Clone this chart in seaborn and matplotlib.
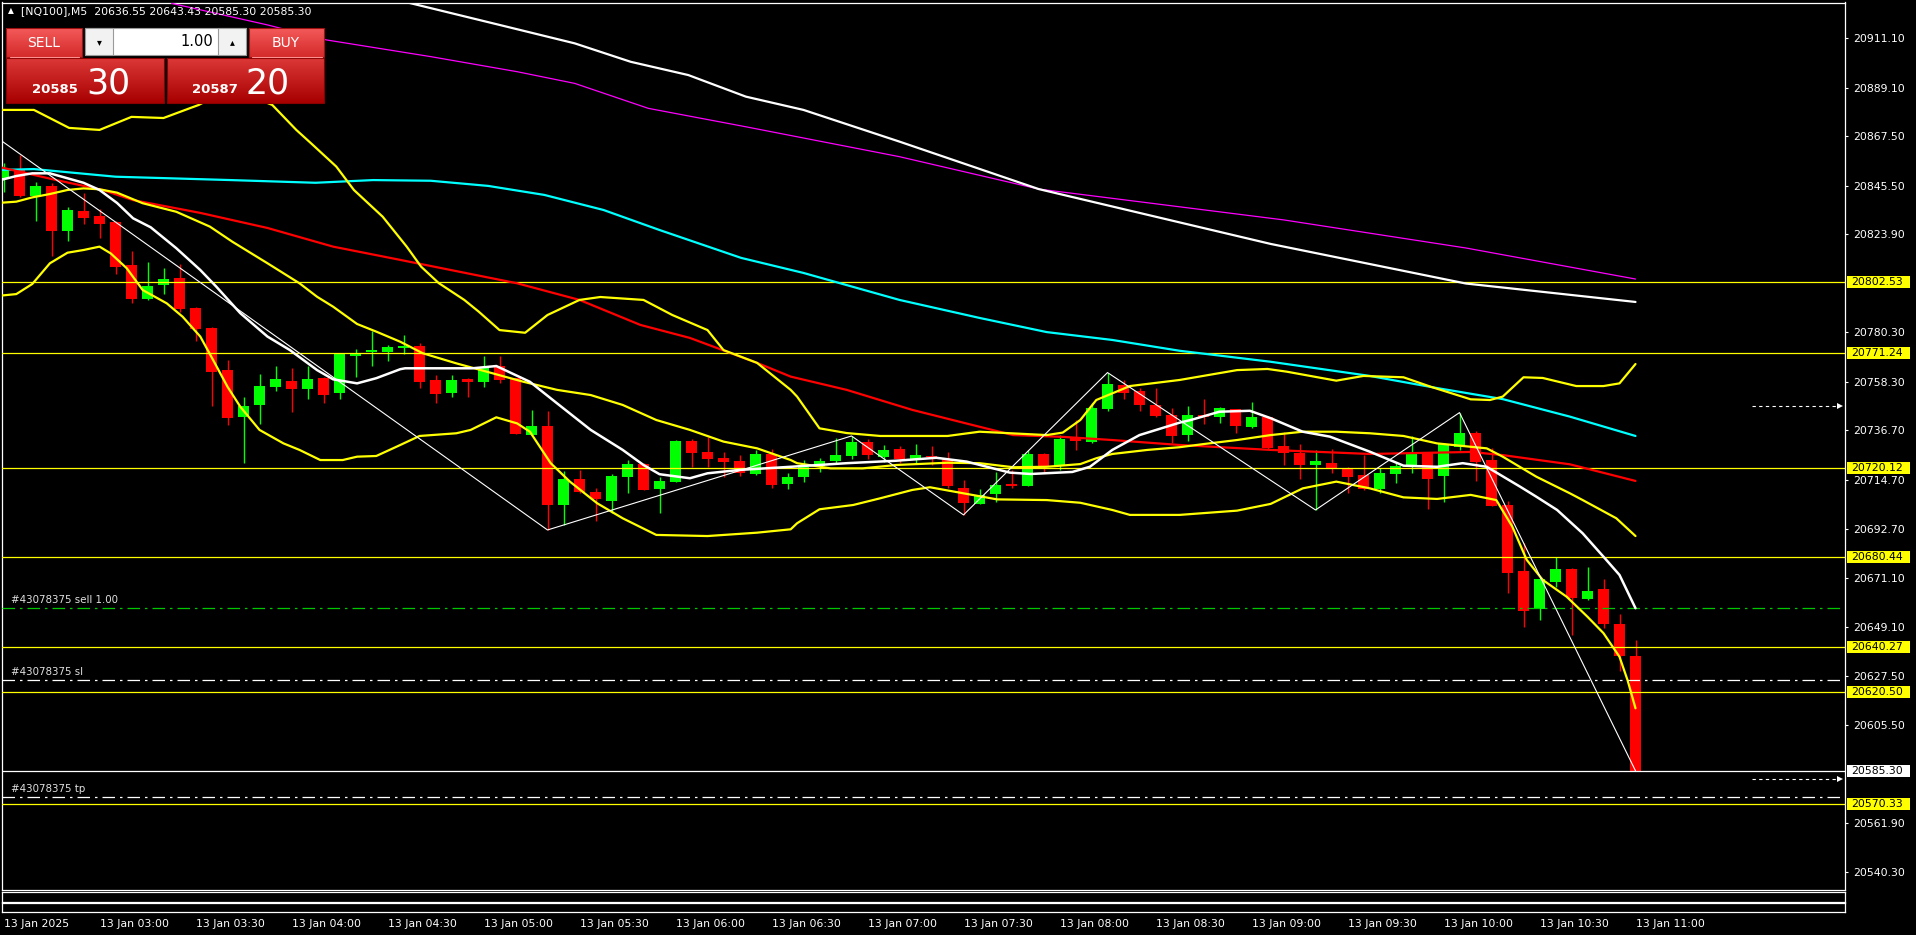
import matplotlib
matplotlib.use("Agg")
import matplotlib.pyplot as plt
import numpy as np
import pandas as pd
import seaborn as sns
from matplotlib.colors import LinearSegmentedColormap
from matplotlib.patches import Rectangle

# ---------------------------------------------------------------------------
# Data: [NQ100] M5, 13 Jan 2025 02:30 .. 11:00 (103 bars)
# ---------------------------------------------------------------------------
OPEN = [
    20849.1, 20852.5, 20840.9, 20845.4, 20825.5, 20834.3, 20832.0, 20829.4, 20810.3, 20795.1,
    20801.4, 20804.5, 20791.1, 20782.2, 20763.6, 20742.8, 20748.0, 20756.1, 20758.7, 20755.0,
    20760.1, 20753.2, 20769.9, 20771.4, 20771.7, 20773.2, 20774.2, 20759.1, 20753.3, 20759.6,
    20758.4, 20765.3, 20759.9, 20734.8, 20738.7, 20703.7, 20715.0, 20709.3, 20705.3, 20716.1,
    20721.8, 20710.8, 20713.9, 20732.0, 20727.1, 20724.4, 20722.9, 20717.4, 20726.2, 20713.0,
    20715.8, 20721.0, 20723.2, 20725.5, 20731.5, 20725.0, 20728.4, 20724.0, 20725.3, 20724.0,
    20711.0, 20704.1, 20708.5, 20712.7, 20712.1, 20726.2, 20720.9, 20733.2, 20731.7, 20746.3,
    20756.9, 20754.2, 20747.9, 20743.4, 20734.7, 20743.6, 20742.8, 20746.1, 20738.4, 20742.8,
    20729.8, 20726.5, 20721.3, 20722.2, 20720.1, 20716.9, 20710.5, 20717.4, 20721.3, 20726.8,
    20716.5, 20729.5, 20735.6, 20723.5, 20703.5, 20674.2, 20657.4, 20669.3, 20675.1, 20661.7,
    20666.2, 20650.6, 20636.55,
]
HIGH = [
    20855.7, 20859.2, 20847.0, 20846.9, 20835.9, 20842.4, 20835.0, 20829.8, 20816.5, 20811.4,
    20809.0, 20810.7, 20791.5, 20782.8, 20768.0, 20751.7, 20761.8, 20765.3, 20764.4, 20765.5,
    20760.4, 20771.0, 20772.8, 20781.0, 20774.7, 20779.1, 20775.7, 20761.3, 20761.3, 20760.0,
    20769.8, 20769.8, 20760.2, 20745.8, 20745.3, 20718.8, 20719.1, 20711.0, 20717.2, 20723.5,
    20722.3, 20716.1, 20732.3, 20732.7, 20733.6, 20726.9, 20725.8, 20728.0, 20728.4, 20717.9,
    20723.5, 20724.6, 20733.4, 20734.2, 20732.7, 20730.2, 20729.9, 20730.7, 20729.8, 20726.9,
    20714.7, 20710.5, 20718.2, 20719.1, 20728.0, 20726.5, 20734.7, 20741.3, 20748.7, 20762.4,
    20759.1, 20755.4, 20755.7, 20746.5, 20747.6, 20750.7, 20747.0, 20746.4, 20749.3, 20743.1,
    20736.1, 20730.7, 20727.9, 20728.4, 20720.6, 20725.8, 20720.1, 20722.1, 20734.2, 20727.2,
    20731.0, 20744.6, 20736.4, 20729.0, 20705.4, 20686.8, 20670.9, 20680.5, 20675.4, 20675.9,
    20670.6, 20655.1, 20643.43,
]
LOW = [
    20842.6, 20840.4, 20829.9, 20814.4, 20821.1, 20828.5, 20822.4, 20806.3, 20793.5, 20794.8,
    20797.4, 20789.5, 20776.6, 20747.7, 20739.1, 20722.1, 20739.5, 20754.4, 20745.0, 20750.5,
    20749.0, 20750.5, 20760.6, 20765.5, 20767.7, 20770.5, 20755.7, 20748.9, 20751.6, 20751.6,
    20756.1, 20757.9, 20735.0, 20734.5, 20692.4, 20694.5, 20708.7, 20696.5, 20699.8, 20709.0,
    20710.1, 20700.1, 20713.6, 20720.6, 20720.6, 20715.8, 20716.5, 20716.9, 20711.0, 20710.5,
    20713.9, 20718.3, 20722.3, 20724.1, 20723.8, 20722.6, 20722.1, 20722.1, 20721.3, 20711.2,
    20699.1, 20703.8, 20704.9, 20711.0, 20711.8, 20717.9, 20719.1, 20728.0, 20731.0, 20745.3,
    20750.5, 20745.3, 20742.8, 20731.0, 20732.0, 20739.5, 20740.1, 20735.4, 20737.9, 20728.3,
    20721.3, 20715.1, 20701.3, 20717.6, 20708.7, 20710.2, 20709.0, 20713.2, 20717.6, 20701.6,
    20705.0, 20728.1, 20714.2, 20703.0, 20664.5, 20649.4, 20652.4, 20667.2, 20645.7, 20661.3,
    20648.9, 20629.7, 20585.30,
]
CLOSE = [
    20852.8, 20840.9, 20845.4, 20825.5, 20834.7, 20831.3, 20828.6, 20809.5, 20795.1, 20800.9,
    20804.0, 20790.7, 20781.8, 20762.8, 20742.3, 20747.6, 20756.4, 20759.6, 20755.0, 20759.6,
    20752.6, 20770.7, 20771.1, 20772.5, 20773.8, 20774.4, 20758.4, 20753.0, 20759.1, 20758.4,
    20764.8, 20759.1, 20735.2, 20738.7, 20703.7, 20715.0, 20709.3, 20706.2, 20716.4, 20721.8,
    20710.3, 20714.2, 20732.0, 20726.8, 20724.0, 20722.8, 20717.9, 20726.2, 20712.6, 20716.0,
    20720.5, 20722.9, 20725.8, 20731.5, 20725.6, 20728.0, 20724.0, 20725.8, 20724.7, 20712.1,
    20704.5, 20708.0, 20712.3, 20712.1, 20726.2, 20720.4, 20732.7, 20732.1, 20746.8, 20757.3,
    20753.5, 20748.0, 20743.1, 20734.3, 20743.6, 20742.5, 20746.7, 20738.8, 20742.8, 20729.0,
    20726.5, 20721.3, 20722.9, 20719.7, 20716.1, 20710.5, 20717.6, 20720.9, 20726.2, 20715.0,
    20730.7, 20735.6, 20722.6, 20703.2, 20673.4, 20656.5, 20670.6, 20675.1, 20662.3, 20665.3,
    20650.7, 20636.5, 20585.30,
]

# indicator lines as (bar index, price)
MA_FAST = [
    (-0.2, 20848.0), (0.8, 20849.8), (1.8, 20851.0), (2.9, 20851.0), (4.0, 20848.8),
    (5.0, 20846.8), (6.0, 20843.6), (7.1, 20837.8), (8.1, 20831.0), (9.2, 20827.0),
    (10.8, 20817.7), (12.3, 20808.0), (13.3, 20800.6), (14.8, 20788.8), (16.5, 20778.4),
    (17.9, 20772.4), (19.6, 20763.5), (20.6, 20759.4), (22.1, 20757.6), (23.3, 20759.9),
    (24.8, 20763.9), (25.1, 20764.3), (29.3, 20764.3), (30.8, 20765.3), (32.9, 20758.3),
    (34.6, 20748.7), (36.7, 20736.9), (38.7, 20728.0), (40.0, 20721.3), (41.0, 20717.2),
    (42.9, 20715.4), (44.0, 20717.6), (46.0, 20719.1), (49.2, 20720.5), (52.7, 20722.1),
    (55.8, 20723.2), (58.3, 20724.5), (60.2, 20722.8), (62.9, 20717.9), (64.2, 20717.3),
    (66.8, 20718.2), (67.9, 20720.5), (69.3, 20728.0), (71.0, 20734.6), (73.5, 20740.1),
    (74.2, 20741.3), (76.0, 20745.0), (77.9, 20745.4), (79.2, 20742.1), (81.2, 20736.1),
    (82.9, 20733.9), (85.4, 20727.2), (87.5, 20721.0), (89.6, 20720.5), (91.2, 20722.1),
    (92.7, 20720.5), (94.8, 20711.6), (95.8, 20707.2), (97.1, 20701.3), (98.7, 20690.9),
    (100.0, 20680.5), (101.0, 20672.4), (102.0, 20657.6),
]
MA_RED = [
    (-0.2, 20853.7), (3.3, 20848.0), (6.2, 20843.6), (8.1, 20839.1), (12.3, 20833.4),
    (16.5, 20826.7), (20.6, 20818.4), (24.8, 20812.5), (32.1, 20802.1), (36.0, 20794.7),
    (39.8, 20783.6), (42.9, 20777.8), (47.1, 20766.7), (49.2, 20760.6), (52.7, 20754.7),
    (56.8, 20745.8), (61.0, 20738.3), (63.1, 20734.6), (66.2, 20733.8), (69.3, 20732.4),
    (73.5, 20730.2), (79.2, 20728.0), (85.4, 20726.2), (91.7, 20727.1), (93.7, 20725.7),
    (97.9, 20721.6), (102.0, 20714.2),
]
MA_CYAN = [
    (-0.2, 20852.5), (1.9, 20852.9), (7.0, 20849.5), (14.2, 20848.0), (19.5, 20846.8),
    (23.1, 20848.0), (26.7, 20847.7), (30.3, 20845.4), (33.8, 20841.4), (37.5, 20834.7),
    (41.0, 20825.8), (46.1, 20813.4), (50.0, 20806.7), (56.0, 20794.7), (61.0, 20786.7),
    (65.2, 20780.4), (69.3, 20776.9), (73.5, 20772.1), (79.2, 20767.2), (85.4, 20760.9),
    (89.6, 20755.5), (93.7, 20750.6), (97.9, 20742.8), (102.0, 20734.2),
]
MA_SLOW_WHITE = [
    (25.3, 20926.9), (31.0, 20917.0), (35.7, 20908.8), (39.2, 20900.6), (42.8, 20894.7),
    (46.4, 20885.1), (50.0, 20879.2), (56.0, 20865.1), (64.7, 20844.0), (79.2, 20819.6),
    (91.4, 20802.0), (102.0, 20793.8),
]
MA_MAGENTA = [
    (10.5, 20926.6), (16.5, 20917.0), (20.2, 20910.3), (26.7, 20902.9), (32.1, 20896.2),
    (35.7, 20891.0), (40.3, 20879.9), (46.4, 20871.7), (56.0, 20858.4), (64.7, 20844.0),
    (80.0, 20830.3), (91.4, 20817.8), (102.0, 20804.0),
]
BB_UPPER = [
    (-0.2, 20879.2), (1.9, 20879.2), (4.1, 20871.2), (6.0, 20870.3), (8.0, 20876.1),
    (10.0, 20875.6), (11.7, 20880.1), (12.2, 20881.4), (14.2, 20888.9), (16.8, 20881.4),
    (18.3, 20870.3), (19.2, 20864.5), (20.8, 20854.0), (21.9, 20843.6), (23.7, 20831.7),
    (25.2, 20818.4), (26.1, 20809.5), (27.2, 20802.2), (28.8, 20794.7), (29.7, 20789.5),
    (31.0, 20781.3), (32.6, 20780.1), (34.0, 20788.0), (36.0, 20794.7), (37.3, 20796.0),
    (40.0, 20794.7), (41.8, 20788.0), (44.0, 20781.3), (45.0, 20772.4), (47.1, 20766.7),
    (49.2, 20754.7), (49.6, 20751.7), (51.0, 20737.6), (52.7, 20735.5), (54.8, 20734.2),
    (59.0, 20734.2), (61.0, 20736.1), (65.2, 20734.6), (66.2, 20735.7), (67.3, 20741.3),
    (68.3, 20750.2), (70.4, 20756.4), (73.5, 20759.1), (77.1, 20763.5), (79.0, 20764.0),
    (80.2, 20762.8), (83.3, 20758.8), (85.0, 20760.9), (87.5, 20760.3), (89.2, 20756.1),
    (91.7, 20750.5), (92.9, 20750.2), (93.7, 20751.7), (95.0, 20760.3), (96.2, 20760.0),
    (98.3, 20756.4), (100.0, 20756.4), (101.0, 20757.6), (102.0, 20766.2),
]
BB_MID = [
    (-0.2, 20837.9), (0.8, 20838.4), (1.8, 20840.3), (2.9, 20841.8), (4.0, 20843.6),
    (5.0, 20844.3), (6.0, 20843.9), (7.1, 20842.4), (8.7, 20837.7), (10.8, 20833.9),
    (12.9, 20827.3), (14.3, 20820.6), (16.5, 20811.0), (18.5, 20802.1), (19.6, 20796.1),
    (20.6, 20791.7), (22.1, 20784.0), (23.3, 20780.6), (24.8, 20776.1), (26.2, 20771.0),
    (28.3, 20766.5), (32.5, 20758.3), (34.6, 20754.7), (36.7, 20752.4), (38.7, 20748.0),
    (40.8, 20741.3), (42.9, 20736.9), (45.0, 20731.7), (47.1, 20728.7), (49.2, 20723.5),
    (49.6, 20722.1), (51.7, 20719.8), (53.7, 20719.8), (55.8, 20721.3), (59.0, 20722.3),
    (61.0, 20722.1), (63.1, 20720.3), (65.2, 20720.5), (67.3, 20721.7), (68.3, 20724.3),
    (69.3, 20726.2), (71.5, 20728.0), (73.5, 20729.2), (75.0, 20730.6), (77.1, 20732.4),
    (79.2, 20734.6), (81.2, 20736.1), (83.3, 20736.1), (85.4, 20735.4), (87.5, 20734.2),
    (89.6, 20730.9), (91.7, 20729.4), (92.7, 20728.7), (93.7, 20725.0), (95.8, 20716.1),
    (97.9, 20708.7), (98.7, 20705.7), (100.8, 20697.6), (102.0, 20689.7),
]
BB_LOWER = [
    (-0.2, 20796.6), (0.8, 20797.3), (1.8, 20801.8), (2.9, 20811.0), (4.0, 20815.7),
    (5.0, 20816.9), (6.0, 20818.4), (6.7, 20815.4), (7.7, 20808.8), (8.7, 20799.1),
    (10.2, 20793.2), (11.2, 20787.2), (12.3, 20778.4), (13.1, 20768.0), (14.0, 20756.1),
    (14.8, 20747.2), (16.0, 20736.9), (17.5, 20730.9), (18.5, 20728.0), (19.8, 20723.5),
    (21.2, 20723.5), (22.1, 20725.0), (23.3, 20725.3), (24.8, 20730.2), (26.0, 20734.2),
    (28.3, 20735.4), (29.2, 20736.9), (30.8, 20742.5), (32.1, 20739.8), (32.9, 20736.1),
    (34.2, 20722.1), (35.4, 20713.9), (37.1, 20704.3), (38.7, 20697.6), (40.8, 20690.2),
    (44.0, 20689.7), (47.1, 20691.2), (49.2, 20692.7), (49.6, 20695.4), (51.0, 20701.6),
    (53.1, 20703.5), (54.8, 20706.5), (56.8, 20710.2), (57.9, 20711.4), (60.0, 20708.7),
    (62.1, 20706.0), (65.2, 20705.7), (67.3, 20704.5), (69.3, 20701.3), (70.4, 20699.1),
    (73.5, 20699.1), (77.1, 20701.0), (79.2, 20704.0), (81.2, 20710.9), (83.3, 20713.9),
    (85.4, 20710.9), (87.5, 20706.9), (89.6, 20706.2), (91.7, 20708.0), (93.3, 20705.7),
    (94.3, 20693.9), (95.2, 20679.1), (96.2, 20670.2), (97.7, 20662.7), (99.0, 20653.8),
    (100.0, 20646.5), (101.0, 20636.0), (101.5, 20625.7), (102.0, 20613.1),
]
ZIGZAG = [
    (-1, 20869.9), (34, 20692.4), (53, 20734.2), (60, 20699.1), (69, 20762.4),
    (82, 20701.3), (91, 20744.6), (102, 20585.3),
]

LEVELS = [20802.53, 20771.24, 20720.12, 20680.44, 20640.27, 20620.50, 20570.33]
BID = 20585.30
ORDER_OPEN = 20657.7
ORDER_SL = 20625.9
ORDER_TP = 20573.8
ARROW_PRICES = [20747.5, 20581.7]

PRICE_TICKS = [20911.10, 20889.10, 20867.50, 20845.50, 20823.90, 20780.30, 20758.30,
               20736.70, 20714.70, 20692.70, 20671.10, 20649.10, 20627.50, 20605.50,
               20561.90, 20540.30]
TIME_TICKS = list(range(0, 103, 6))
TIME_LABELS = ["13 Jan 2025", "13 Jan 03:00", "13 Jan 03:30", "13 Jan 04:00",
               "13 Jan 04:30", "13 Jan 05:00", "13 Jan 05:30", "13 Jan 06:00",
               "13 Jan 06:30", "13 Jan 07:00", "13 Jan 07:30", "13 Jan 08:00",
               "13 Jan 08:30", "13 Jan 09:00", "13 Jan 09:30", "13 Jan 10:00",
               "13 Jan 10:30", "13 Jan 11:00"]

TITLE = "[NQ100],M5  20636.55 20643.43 20585.30 20585.30"

# ---------------------------------------------------------------------------
# Layout (pixels of the 1916x935 screenshot)
# ---------------------------------------------------------------------------
W, H = 1916, 935
PLOT_L, PLOT_R, PLOT_T, PLOT_B = 1.5, 1845, 2.5, 890
BAR_X0, BAR_STEP = 3.5, 16.0          # pixel centre of bar 0, bar spacing
PX_PER_PT = 2.2487                    # vertical scale
Y_AT_20540 = 872.0

sns.set_theme(style="dark", rc={"axes.facecolor": "black", "figure.facecolor": "black"})
plt.rcParams["font.family"] = ["DejaVu Sans"]

GREEN, RED, YEL = "#00ff00", "#ff0000", "#ffff00"
FS = 7.8


def px_to_price(py):
    return 20540.30 + (Y_AT_20540 - py) / PX_PER_PT


def px_to_idx(px):
    return (px - BAR_X0) / BAR_STEP


def ax_frac(px):
    return (px - PLOT_L) / (PLOT_R - PLOT_L)


fig = plt.figure(figsize=(W / 100, H / 100), dpi=100, facecolor="black")
ax = fig.add_axes([PLOT_L / W, 1 - PLOT_B / H, (PLOT_R - PLOT_L) / W, (PLOT_B - PLOT_T) / H])
ax.set_facecolor("black")
ax.set_xlim(px_to_idx(PLOT_L), px_to_idx(PLOT_R))
ax.set_ylim(px_to_price(PLOT_B), px_to_price(PLOT_T))
for s in ax.spines.values():
    s.set_color("white")
    s.set_linewidth(0.9)

# --- candles ---
df = pd.DataFrame({"open": OPEN, "high": HIGH, "low": LOW, "close": CLOSE})
df["idx"] = np.arange(len(df))
col = np.where(df["close"] >= df["open"], GREEN, RED)
ax.vlines(df["idx"], df["low"], df["high"], colors=col, lw=1.0, zorder=3)
body_lo = df[["open", "close"]].min(axis=1)
body_h = (df["close"] - df["open"]).abs().clip(lower=0.5)
ax.bar(df["idx"], body_h, bottom=body_lo, width=11 / BAR_STEP, color=col,
       linewidth=0, zorder=3)

# --- indicator lines ---
def draw_line(points, color, lw, z=5):
    d = pd.DataFrame(points, columns=["i", "p"])
    sns.lineplot(data=d, x="i", y="p", ax=ax, color=color, linewidth=lw,
                 estimator=None, sort=False, zorder=z)


draw_line(MA_MAGENTA, "#ff00ff", 0.9)
draw_line(MA_SLOW_WHITE, "white", 1.6)
draw_line(MA_CYAN, "#00ffff", 1.6)
draw_line(MA_RED, RED, 1.6)
draw_line(BB_UPPER, YEL, 1.6)
draw_line(BB_MID, YEL, 1.6)
draw_line(BB_LOWER, YEL, 1.6)
draw_line(ZIGZAG, "white", 0.8)
draw_line(MA_FAST, "white", 1.8, z=6)

# --- horizontal levels ---
for lv in LEVELS:
    ax.axhline(lv, color=YEL, lw=0.9, zorder=4)
ax.axhline(BID, color="white", lw=0.9, zorder=4)
ax.axhline(ORDER_OPEN, color="#00c800", lw=0.9, ls=(0, (10, 4, 2, 4)), zorder=4)
ax.axhline(ORDER_SL, color="white", lw=0.9, ls=(0, (10, 4, 2, 4)), zorder=4)
ax.axhline(ORDER_TP, color="white", lw=0.9, ls=(0, (10, 4, 2, 4)), zorder=4)

ytr = ax.get_yaxis_transform()
for txt, p in [("#43078375 sell 1.00", ORDER_OPEN), ("#43078375 sl", ORDER_SL),
               ("#43078375 tp", ORDER_TP)]:
    ax.text(ax_frac(11), p + 1.2, txt, transform=ytr, color="#e0e0e0", fontsize=7.4,
            va="bottom", ha="left", zorder=7)

for p in ARROW_PRICES:
    ax.plot([ax_frac(1752), ax_frac(1838)], [p, p], transform=ytr, color="white",
            lw=0.8, ls=(0, (3, 3)), zorder=7)
    ax.plot([ax_frac(1840)], [p], transform=ytr, marker=">", ms=5, color="white",
            markeredgewidth=0, zorder=7)

# --- price axis ---
ax.set_xticks([])
ax.yaxis.tick_right()
ax.set_yticks(PRICE_TICKS)
ax.set_yticklabels([f"{v:.2f}" for v in PRICE_TICKS])
ax.tick_params(axis="y", colors="white", length=2.5, width=0.8, pad=3.5, labelsize=FS)
ax.set_xlabel("")
ax.set_ylabel("")

box_h = 12 / PX_PER_PT
for lv in LEVELS + [BID]:
    fc = "white" if lv == BID else YEL
    ax.add_patch(Rectangle((ax_frac(1847), lv - box_h / 2), ax_frac(1910) - ax_frac(1847),
                           box_h, transform=ytr, facecolor=fc, edgecolor="none",
                           clip_on=False, zorder=10))
    ax.text(ax_frac(1851), lv, f"{lv:.2f}", transform=ytr, color="black", fontsize=FS,
            va="center", ha="left", clip_on=False, zorder=11)

# --- small empty sub-windows + time axis ---
sub1 = fig.add_axes([PLOT_L / W, 1 - 901.7 / H, (PLOT_R - PLOT_L) / W, 9.4 / H])
sub2 = fig.add_axes([PLOT_L / W, 1 - 911.7 / H, (PLOT_R - PLOT_L) / W, 8.4 / H])
for a in (sub1, sub2):
    a.set_facecolor("black")
    a.set_xlim(ax.get_xlim())
    a.set_yticks([])
    for s in a.spines.values():
        s.set_color("white")
        s.set_linewidth(0.9)
sub1.set_xticks([])
sub2.set_xticks(TIME_TICKS)
sub2.set_xticklabels(TIME_LABELS)
sub2.tick_params(axis="x", colors="white", length=3, width=0.8, pad=2.5, labelsize=FS)
for lab in sub2.get_xticklabels():
    lab.set_horizontalalignment("left")

# --- overlay: title and one-click trading panel (pixel coordinates) ---
ov = fig.add_axes([0, 0, 1, 1])
ov.set_zorder(20)
ov.axis("off")


def grad_box(x0, y0, x1, y1, top, bottom, edge):
    cmap = LinearSegmentedColormap.from_list("g", [top, bottom])
    ov.imshow(np.linspace(0, 1, 64)[:, None], cmap=cmap, aspect="auto",
              extent=(x0, x1, y1, y0), origin="upper", zorder=2)
    ov.add_patch(Rectangle((x0, y0), x1 - x0, y1 - y0, fill=False, edgecolor=edge,
                           lw=0.8, zorder=3))


ov.text(11, 11, "\u25b2", color="white", fontsize=5.5, ha="center", va="center")
ov.text(21, 11, TITLE, color="white", fontsize=FS, ha="left", va="center")

grad_box(6, 28, 82, 57, "#f45a5a", "#d42a2a", "#a01010")
grad_box(249, 28, 324, 57, "#f45a5a", "#d42a2a", "#a01010")
grad_box(6, 58, 164, 103, "#dc3838", "#a80000", "#8a0000")
grad_box(167, 58, 324, 103, "#dc3838", "#a80000", "#8a0000")
ov.plot([10, 79], [57, 57], color="#ff9090", lw=0.8, zorder=4)
ov.plot([252, 322], [57, 57], color="#ff9090", lw=0.8, zorder=4)
ov.add_patch(Rectangle((85, 28), 161, 27, facecolor="white", edgecolor="#9a9a9a",
                       lw=0.8, zorder=3))
ov.add_patch(Rectangle((85, 28), 28, 27, facecolor="#f2f2f2", edgecolor="#9a9a9a",
                       lw=0.8, zorder=3))
ov.add_patch(Rectangle((218, 28), 28, 27, facecolor="#f2f2f2", edgecolor="#9a9a9a",
                       lw=0.8, zorder=3))
ov.text(99, 42, "\u25be", color="black", fontsize=7, ha="center", va="center", zorder=5)
ov.text(232, 42, "\u25b4", color="black", fontsize=7, ha="center", va="center", zorder=5)
ov.text(213, 42, "1.00", color="black", fontsize=10.5, ha="right", va="center", zorder=5)
ov.text(44, 43, "SELL", color="white", fontsize=10, ha="center", va="center", zorder=5)
ov.text(286, 43, "BUY", color="white", fontsize=10, ha="center", va="center", zorder=5)
ov.text(32, 93, "20585", color="white", fontsize=9.5, fontweight="bold", ha="left",
        va="baseline", zorder=5)
ov.text(86, 93, "30", color="white", fontsize=25, ha="left", va="baseline", zorder=5)
ov.text(192, 93, "20587", color="white", fontsize=9.5, fontweight="bold", ha="left",
        va="baseline", zorder=5)
ov.text(246, 93, "20", color="white", fontsize=25, ha="left", va="baseline", zorder=5)

ov.set_xlim(0, W)
ov.set_ylim(H, 0)

fig.savefig("out.png", dpi=100, facecolor="black")
